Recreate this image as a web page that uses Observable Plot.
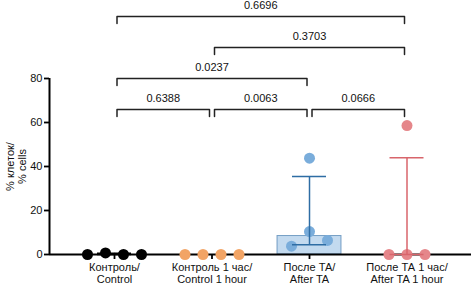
<!DOCTYPE html>
<html>
<head>
<meta charset="utf-8">
<script src="https://cdn.jsdelivr.net/npm/d3@7"></script>
<script src="https://cdn.jsdelivr.net/npm/@observablehq/plot@0.6"></script>
<style>
  html, body { margin: 0; padding: 0; background: #fff; }
  #chart svg { display: block; }
</style>
</head>
<body>
<div id="chart"></div>
<script>
// ---- data ----
const groupLabels = ["Контроль/\nControl", "Контроль 1 час/\nControl 1 hour", "После ТА/\nAfter TA", "После ТА 1 час/\nAfter TA 1 hour"];
const control = [0, 0.7, 0, 0];
const control1h = [0, 0, 0, 0];
const afterTA = [43.8, 10.4, 3.8, 6.4];
const afterTA1h = [0, 0, 0, 58.6];
const dotColors = ["#000000", "#f2a465", "#7aaddb", "#e5868a"];
const errColors = ["#000000", "#e08a40", "#2e6da4", "#d8656b"];
const bracketFrom = [0, 1, 0, 0, 1, 2];
const bracketTo = [3, 3, 2, 1, 2, 3];
const bracketLevel = [3, 2, 1, 0, 0, 0];
const bracketP = ["0.6696", "0.3703", "0.0237", "0.6388", "0.0063", "0.0666"];
const yTicks = [0, 20, 40, 60, 80];
const yLabel = "% клеток/\n% cells";

// ---- layout ----
const W = 471, H = 285;
const xRange = [49, 471], yRange = [254, 78];
const xMin = -0.6667, xMax = 3.6615;
const kx = (xRange[1] - xRange[0]) / (xMax - xMin);
const ky = (yRange[0] - yRange[1]) / 80;

const series = [control, control1h, afterTA, afterTA1h];

// beeswarm-like spreading (pixel space)
function swarm(values) {
  const s = 18, thr = 15;
  const placed = [];
  values.forEach((v, i) => {
    const py = v * ky;
    for (let k = 0; k < 20; k++) {
      const m = k === 0 ? 0 : (k % 2 ? -Math.ceil(k / 2) : Math.ceil(k / 2));
      const off = m * s;
      if (!placed.some(p => Math.hypot(off - p.off, py - p.py) < thr)) {
        placed.push({i, v, py, off});
        break;
      }
    }
  });
  const sorted = [...placed].sort((a, b) => a.py - b.py);
  let cluster = [];
  const clusters = [];
  sorted.forEach(p => {
    if (cluster.length && p.py - cluster[cluster.length - 1].py >= thr) { clusters.push(cluster); cluster = []; }
    cluster.push(p);
  });
  if (cluster.length) clusters.push(cluster);
  clusters.forEach(c => {
    const mean = d3.mean(c, p => p.off);
    c.forEach(p => p.off -= mean);
  });
  return placed;
}

function q(sorted, p) {
  const n = sorted.length, pos = (n + 1) * p;
  if (pos <= 1) return sorted[0];
  if (pos >= n) return sorted[n - 1];
  const lo = Math.floor(pos);
  return sorted[lo - 1] + (pos - lo) * (sorted[lo] - sorted[lo - 1]);
}

const dots = [];
const stats = [];
series.forEach((vals, g) => {
  swarm(vals).forEach(p => dots.push({g, x: g + p.off / kx, y: p.v}));
  const s = [...vals].sort((a, b) => a - b);
  stats.push({g, q1: q(s, 0.25), med: q(s, 0.5), q3: q(s, 0.75)});
});

const barHalf = 32 / kx, capHalf = 17 / kx, inset = 2.5 / kx;
const bracketBase = 65.9, bracketStep = 31 / ky, bracketDrop = 7 / ky;
const brackets = bracketFrom.map((a, i) => ({
  a: a + inset, b: bracketTo[i] - inset,
  y: bracketBase + bracketLevel[i] * bracketStep, p: bracketP[i]
}));
const bracketPts = brackets.flatMap((b, i) => [
  {i, x: b.a, y: b.y - bracketDrop}, {i, x: b.a, y: b.y},
  {i, x: b.b, y: b.y}, {i, x: b.b, y: b.y - bracketDrop}
]);

const chart = Plot.plot({
  width: W, height: H,
  marginLeft: 49, marginRight: 0, marginTop: 0, marginBottom: 31,
  style: {fontFamily: "'Liberation Sans', Arial, sans-serif", fontSize: "11px", color: "#111", background: "#fff"},
  x: {type: "linear", domain: [xMin, xMax], range: xRange},
  y: {domain: [0, 80], range: yRange},
  marks: [
    Plot.rectY(stats.filter(d => d.med > 0), {
      x1: d => d.g - barHalf, x2: d => d.g + barHalf, y1: 0, y2: "med",
      fill: d => dotColors[d.g], fillOpacity: 0.45, stroke: d => errColors[d.g], strokeOpacity: 0.6, strokeWidth: 1
    }),
    Plot.ruleY([0], {stroke: "#000", strokeWidth: 2}),
    Plot.ruleX([xMin], {y1: 0, y2: 80, stroke: "#000", strokeWidth: 2}),
    Plot.axisY({ticks: yTicks, tickSize: 5, tickPadding: 2, label: null, strokeWidth: 1.8, fontSize: 11, stroke: "#000", fill: "#111"}),
    Plot.axisX({ticks: [0, 1, 2, 3], tickFormat: i => groupLabels[i], tickSize: 5, tickPadding: 3, label: null, strokeWidth: 1.8, fontSize: 11, lineHeight: 1.1, stroke: "#000", fill: "#111"}),
    Plot.dot(dots, {x: "x", y: "y", r: 5.5, fill: d => dotColors[d.g], stroke: "none"}),
    Plot.ruleX(stats.filter(d => d.q3 > d.q1), {x: "g", y1: "q1", y2: "q3", stroke: d => errColors[d.g], strokeWidth: 1.5}),
    Plot.ruleY(stats.filter(d => d.q3 > d.q1), {x1: d => d.g - capHalf, x2: d => d.g + capHalf, y: "q3", stroke: d => errColors[d.g], strokeWidth: 1.5}),
    Plot.ruleY(stats.filter(d => d.q3 > d.q1), {x1: d => d.g - capHalf, x2: d => d.g + capHalf, y: "q1", stroke: d => errColors[d.g], strokeWidth: 1.5}),
    Plot.line(bracketPts, {x: "x", y: "y", z: "i", stroke: "#222", strokeWidth: 1.5}),
    Plot.text(brackets, {x: d => (d.a + d.b) / 2, y: "y", text: "p", dy: -11.5, fontSize: 11, fill: "#111"}),
    Plot.text([yLabel], {x: xMin, y: 40, dx: -33, rotate: -90, text: d => d, fontSize: 11, lineHeight: 1.05, fill: "#111"})
  ]
});
document.getElementById("chart").appendChild(chart);
</script>
</body>
</html>
